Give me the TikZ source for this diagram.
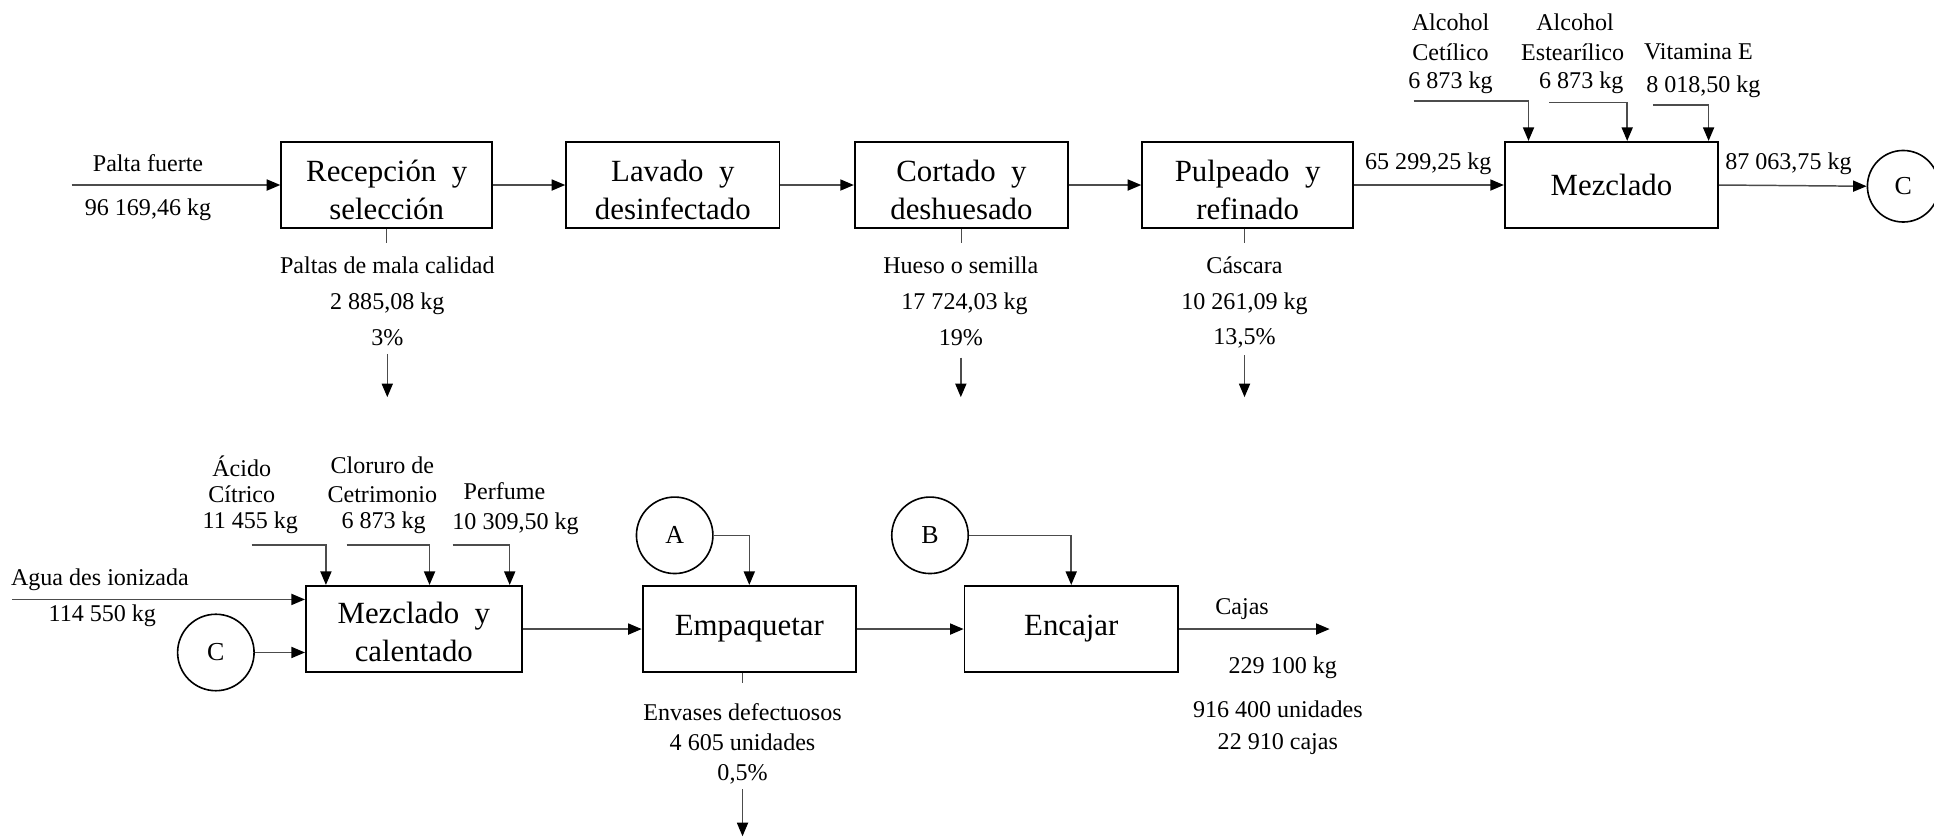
\documentclass[tikz,border=0pt]{standalone}
\usepackage{fontspec}
\setmainfont{Liberation Serif}
\usetikzlibrary{arrows.meta,calc}
\newcommand{\twoline}[3]{\raisebox{#1}[\height][\depth]{\begin{tabular}{@{}c@{}}#2\\#3\end{tabular}}}
\begin{document}
\begin{tikzpicture}[x=1pt,y=-1pt,
  box/.style={draw=black,line width=1.5pt,minimum height=70pt,inner sep=0pt,align=center,font=\fontsize{25}{30.8}\selectfont},
  lbl/.style={inner sep=0pt,font=\fontsize{19.5}{24}\selectfont},
  circ/.style={draw=black,line width=1.3pt,circle,minimum size=62pt,inner sep=0pt,font=\fontsize{21}{24}\selectfont},
  ln/.style={draw=black!70,line width=1.2pt},
  arr/.style={ln,-{Triangle[length=11pt,width=9pt,color=black]}}]
\useasboundingbox (0,0) rectangle (1568,679);
\fill[white] (0,0) rectangle (1568,679);
% top row boxes
\node[box,minimum width=171pt] (rec) at (313.5,150) {\twoline{-6pt}{Recepción \ y}{selección}};
\node[box,minimum width=173pt] (lav) at (545.5,150) {\twoline{-6pt}{Lavado \ y}{desinfectado}};
\node[box,minimum width=173pt] (cor) at (779.5,150) {\twoline{-6pt}{Cortado \ y}{deshuesado}};
\node[box,minimum width=171pt] (pul) at (1011.5,150) {\twoline{-6pt}{Pulpeado \ y}{refinado}};
\node[box,minimum width=173pt] (mez) at (1306.5,150) {Mezclado};
\node[circ,minimum size=58pt] (cC1) at (1543,151) {C};
% top row connectors
\coordinate (pin) at (58,150);
\draw[arr] (pin) -- (rec.west);
\draw[arr] (rec.east) -- (lav.west);
\draw[arr] (lav.east) -- (cor.west);
\draw[arr] (cor.east) -- (pul.west);
\draw[arr] (pul.east) -- (mez.west);
\draw[arr] (mez.east) -- (cC1.west);
\node[lbl] (tpf) at (120,132) {Palta fuerte};
\node[lbl] (tpk) at (120,170) {96 169,46 kg};
\node[lbl] (tm1) at (1158,133) {65 299,25 kg};
\node[lbl] (tm2) at (1450,133) {87 063,75 kg};
% additives to Mezclado
\node[lbl] (ac1) at (1176,18) {Alcohol};
\node[lbl] (ac2) at (1176,42) {Cetílico};
\node[lbl] (ac3) at (1176,67) {6 873 kg};
\node[lbl] (ae1) at (1277,18) {Alcohol};
\node[lbl] (ae2) at (1275,42) {Estearílico};
\node[lbl] (ae3) at (1282,67) {6 873 kg};
\node[lbl] (ve1) at (1377,42) {Vitamina E};
\node[lbl] (ve2) at (1381,70) {8 018,50 kg};
\coordinate (sac) at (1146,82);
\coordinate (sae) at (1256,83);
\coordinate (sve) at (1340,85);
\draw[arr] (sac) -| ([xshift=20pt]mez.north west);
\draw[arr] (sae) -| ([xshift=100pt]mez.north west);
\draw[arr] (sve) -| ([xshift=166pt]mez.north west);
% outputs top row
\node[lbl] (r1) at (314,215) {Paltas de mala calidad};
\node[lbl] (r2) at (314,246) {2 885,08 kg};
\node[lbl] (r3) at (314,274) {3\%};
\node[lbl] (h1) at (779,215) {Hueso o semilla};
\node[lbl] (h2) at (782,246) {17 724,03 kg};
\node[lbl] (h3) at (779,274) {19\%};
\node[lbl] (c1) at (1009,215) {Cáscara};
\node[lbl] (c2) at (1009,246) {10 261,09 kg};
\node[lbl] (c3) at (1009,274) {13,5\%};
\coordinate (ro) at (314,322);
\coordinate (ho) at (779,322);
\coordinate (co) at (1009,322);
\draw[ln] (rec.south) -- ++(0,11);
\draw[ln] (cor.south) -- ++(0,11);
\draw[ln] (pul.south -| co) -- ++(0,11);
\draw[arr] (ro |- 0,287) -- (ro);
\draw[arr] (ho |- 0,290) -- (ho);
\draw[arr] (co |- 0,288) -- (co);
% bottom row
\node[box,minimum width=175pt] (mc) at (335.5,510) {\twoline{-5pt}{Mezclado \ y}{calentado}};
\node[box,minimum width=173pt] (emp) at (607.5,510) {Empaquetar};
\node[box,minimum width=173pt] (enc) at (868.5,510) {Encajar};
\node[circ] (cC2) at (175,529) {C};
\node[circ] (cA) at (547,434) {A};
\node[circ] (cB) at (754,434) {B};
\draw[arr] (mc.east) -- (emp.west);
\draw[arr] (emp.east) -- (enc.west);
\coordinate (caj) at (1078,510);
\draw[arr] (enc.east) -- (caj);
\draw[arr] (cA.east) -| (emp.north);
\draw[arr] (cB.east) -| (enc.north);
\draw[arr] (cC2.east) -- (cC2.east -| mc.west);
\coordinate (agua) at (10,486);
\draw[arr] (agua) -- (agua -| mc.west);
\node[lbl] (ag1) at (81,470) {Agua des ionizada};
\node[lbl] (ag2) at (83,499) {114 550 kg};
\node[lbl] (ad1) at (196,378) {Ácido};
\node[lbl] (ad2) at (196,401) {Cítrico};
\node[lbl] (ad3) at (203,424) {11 455 kg};
\node[lbl] (cl1) at (310,377) {Cloruro de};
\node[lbl] (cl2) at (310,401) {Cetrimonio};
\node[lbl] (cl3) at (311,424) {6 873 kg};
\node[lbl] (pe1) at (409,398) {Perfume};
\node[lbl] (pe2) at (418,425) {10 309,50 kg};
\coordinate (sad) at (204,442);
\coordinate (scl) at (281,442);
\coordinate (spe) at (367,442);
\draw[arr] (sad) -| ([xshift=17pt]mc.north west);
\draw[arr] (scl) -| ([xshift=101pt]mc.north west);
\draw[arr] (spe) -| ([xshift=166pt]mc.north west);
\node[lbl] (cj1) at (1007,494) {Cajas};
\node[lbl] (cj2) at (1040,541) {229 100 kg};
\node[lbl] (cj3) at (1036,575) {916 400 unidades};
\node[lbl] (cj4) at (1036,603) {22 910 cajas};
\node[lbl] (en1) at (602,577) {Envases defectuosos};
\node[lbl] (en2) at (602,602) {4 605 unidades};
\node[lbl] (en3) at (602,628) {0,5\%};
\coordinate (eo) at (602,678);
\draw[ln] (emp.south -| eo) -- ++(0,8);
\draw[arr] (eo |- 0,640) -- (eo);
\end{tikzpicture}
\end{document}
